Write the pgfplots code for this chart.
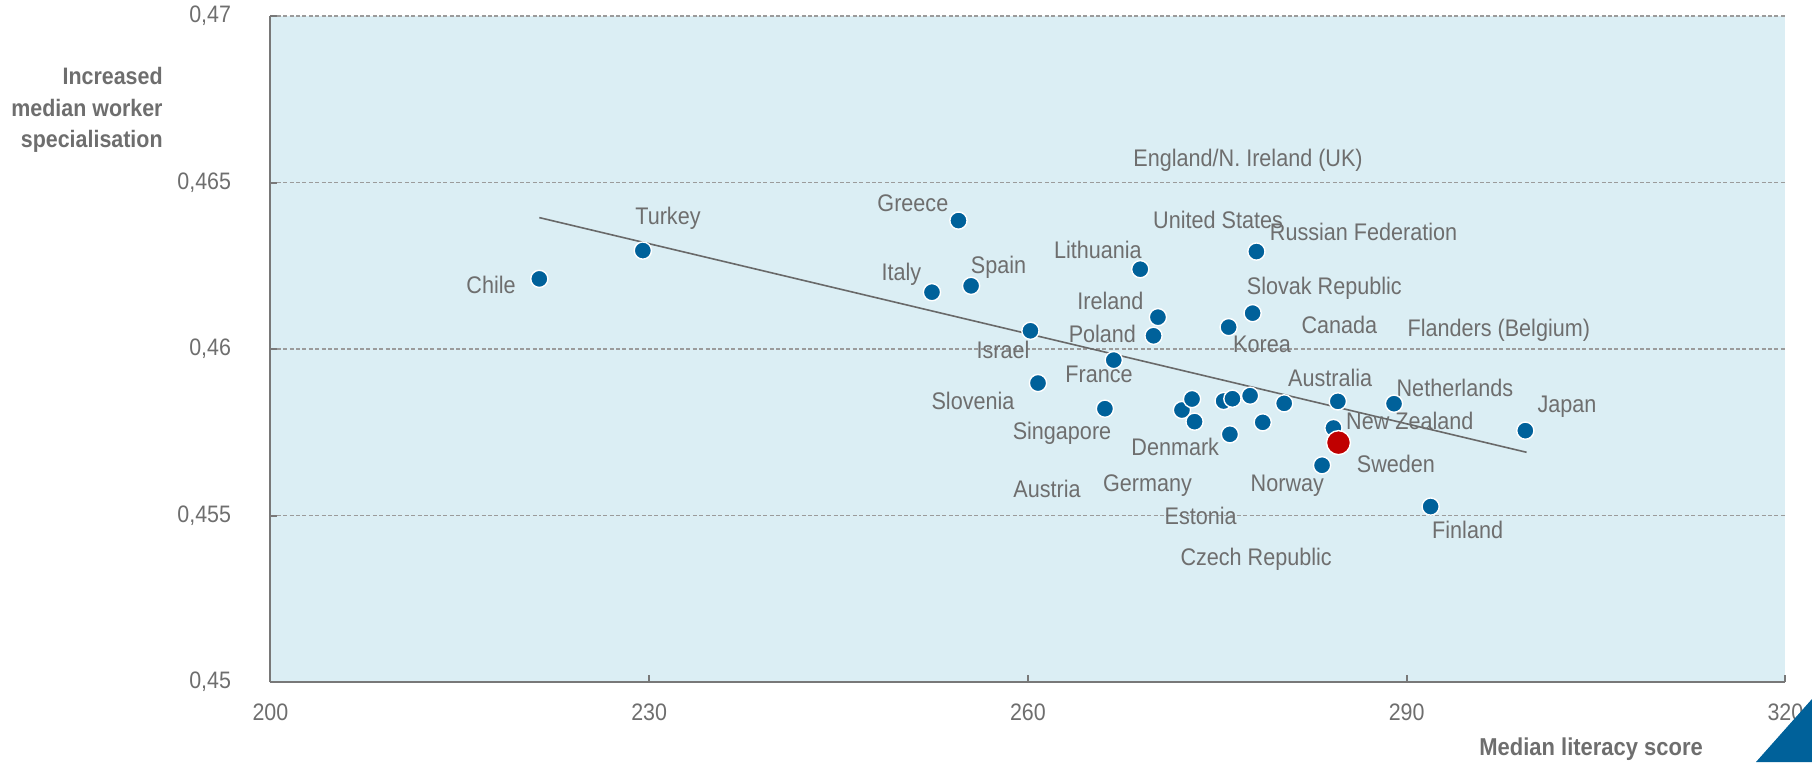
\documentclass[border=0pt]{standalone}
\usepackage{pgfplots}
\pgfplotsset{compat=1.18}
\usepackage{fontspec}
\setmainfont{Liberation Sans}[FakeStretch=0.9]
\definecolor{bgblue}{RGB}{219,238,244}
\definecolor{ptblue}{RGB}{0,97,154}
\definecolor{ptred}{RGB}{192,0,0}
\definecolor{txtgray}{RGB}{110,110,110}
\definecolor{gridgray}{RGB}{155,155,155}
\definecolor{axgray}{RGB}{120,120,120}
\definecolor{trendgray}{RGB}{105,105,105}
\tikzset{lbl/.style={font=\fontsize{12}{13}\selectfont, text=txtgray, inner sep=0pt, anchor=center}}
\begin{document}
\begin{tikzpicture}
\useasboundingbox (0,0) rectangle (906pt,381pt);
\begin{axis}[
  at={(135.2pt,40pt)}, anchor=south west,
  scale only axis, width=757.5pt, height=332.9pt,
  xmin=200, xmax=320, ymin=0.45, ymax=0.47,
  xtick={200,230,260,290,320},
  ytick={0.45,0.455,0.46,0.465,0.47},
  axis x line*=bottom, axis y line*=left,
  axis line style={draw=axgray, line width=1pt},
  axis background/.style={fill=bgblue},
  ymajorgrids,
  grid style={draw=gridgray, line width=0.8pt, dash pattern=on 2pt off 1.2pt},
  major tick length=3.5pt,
  tick align=inside,
  tick style={draw=axgray, line width=1pt},
  /pgf/number format/assume math mode=true,
  yticklabel style={/pgf/number format/use comma, /pgf/number format/fixed, /pgf/number format/precision=3},
  xticklabel style={/pgf/number format/1000 sep={}},
  ticklabel style={font=\fontsize{11.9}{13}\selectfont, text=txtgray},
  yticklabel style={inner sep=0pt, xshift=-19.5pt},
  xticklabel style={inner sep=0pt, yshift=-10.5pt},
  clip=false,
]
\addplot[no marks, draw=trendgray, line width=0.8pt] coordinates {(221.3,0.46395) (299.5,0.4569)};

\node[lbl] at (axis cs:277.44,0.46566) {England/N. Ireland (UK)};
\node[lbl] at (axis cs:231.49,0.46392) {Turkey};
\node[lbl] at (axis cs:250.89,0.46437) {Greece};
\node[lbl] at (axis cs:275.06,0.46389) {United States};
\node[lbl] at (axis cs:286.59,0.46351) {Russian Federation};
\node[lbl] at (axis cs:265.54,0.46299) {Lithuania};
\node[lbl] at (axis cs:217.48,0.46194) {Chile};
\node[lbl] at (axis cs:249.98,0.46226) {Italy};
\node[lbl] at (axis cs:257.67,0.46247) {Spain};
\node[lbl] at (axis cs:283.48,0.46184) {Slovak Republic};
\node[lbl] at (axis cs:266.54,0.46146) {Ireland};
\node[lbl] at (axis cs:284.67,0.46073) {Canada};
\node[lbl] at (axis cs:297.30,0.46056) {Flanders (Belgium)};
\node[lbl] at (axis cs:265.90,0.46045) {Poland};
\node[lbl] at (axis cs:278.54,0.46014) {Korea};
\node[lbl] at (axis cs:258.03,0.45997) {Israel};
\node[lbl] at (axis cs:265.63,0.45924) {France};
\node[lbl] at (axis cs:283.94,0.45913) {Australia};
\node[lbl] at (axis cs:293.82,0.45882) {Netherlands};
\node[lbl] at (axis cs:255.65,0.45844) {Slovenia};
\node[lbl] at (axis cs:302.70,0.45826) {Japan};
\node[lbl] at (axis cs:290.25,0.45785) {New Zealand};
\node[lbl] at (axis cs:262.70,0.45747) {Singapore};
\node[lbl] at (axis cs:271.67,0.45705) {Denmark};
\node[lbl] at (axis cs:289.15,0.45656) {Sweden};
\node[lbl] at (axis cs:261.51,0.45580) {Austria};
\node[lbl] at (axis cs:269.47,0.45590) {Germany};
\node[lbl] at (axis cs:280.55,0.45590) {Norway};
\node[lbl] at (axis cs:273.68,0.45500) {Estonia};
\node[lbl] at (axis cs:294.83,0.45458) {Finland};
\node[lbl] at (axis cs:278.08,0.45368) {Czech Republic};

\addplot[only marks, mark=*, mark size=4.3pt,
  mark options={fill=ptblue, draw=white, line width=0.7pt}] table {
x y
221.3 0.46211
229.5 0.46296
254.5 0.46386
252.4 0.46171
255.5 0.46190
260.2 0.46055
260.8 0.45898
268.9 0.46240
270.3 0.46096
269.95 0.46040
266.8 0.45967
266.1 0.45821
275.9 0.46066
277.8 0.46108
278.1 0.46293
272.2 0.45817
273.0 0.45850
273.2 0.45782
275.5 0.45844
276.2 0.45851
277.6 0.45860
278.6 0.45780
276.0 0.45744
280.3 0.45837
284.55 0.45843
284.2 0.45763
283.3 0.45651
289.0 0.45836
291.9 0.45527
299.4 0.45755
};
\addplot[only marks, mark=*, mark size=6pt,
  mark options={fill=ptred, draw=white, line width=0.7pt}] table {
x y
284.6 0.45719
};
\end{axis}
\node[anchor=north east, align=right, inner sep=0pt, text=txtgray,
  font={\fontsize{11.9}{15.6}\selectfont\bfseries}] at (81.5pt,347.4pt)
  {Increased\\median worker\\specialisation};
\node[anchor=east, inner sep=0pt, text=txtgray,
  font={\fontsize{12.2}{13}\selectfont\bfseries}] at (851.6pt,6.5pt) {Median literacy score};
\fill[ptblue] (878pt,0pt) -- (906pt,31.5pt) -- (906pt,0pt) -- cycle;
\end{tikzpicture}
\end{document}
